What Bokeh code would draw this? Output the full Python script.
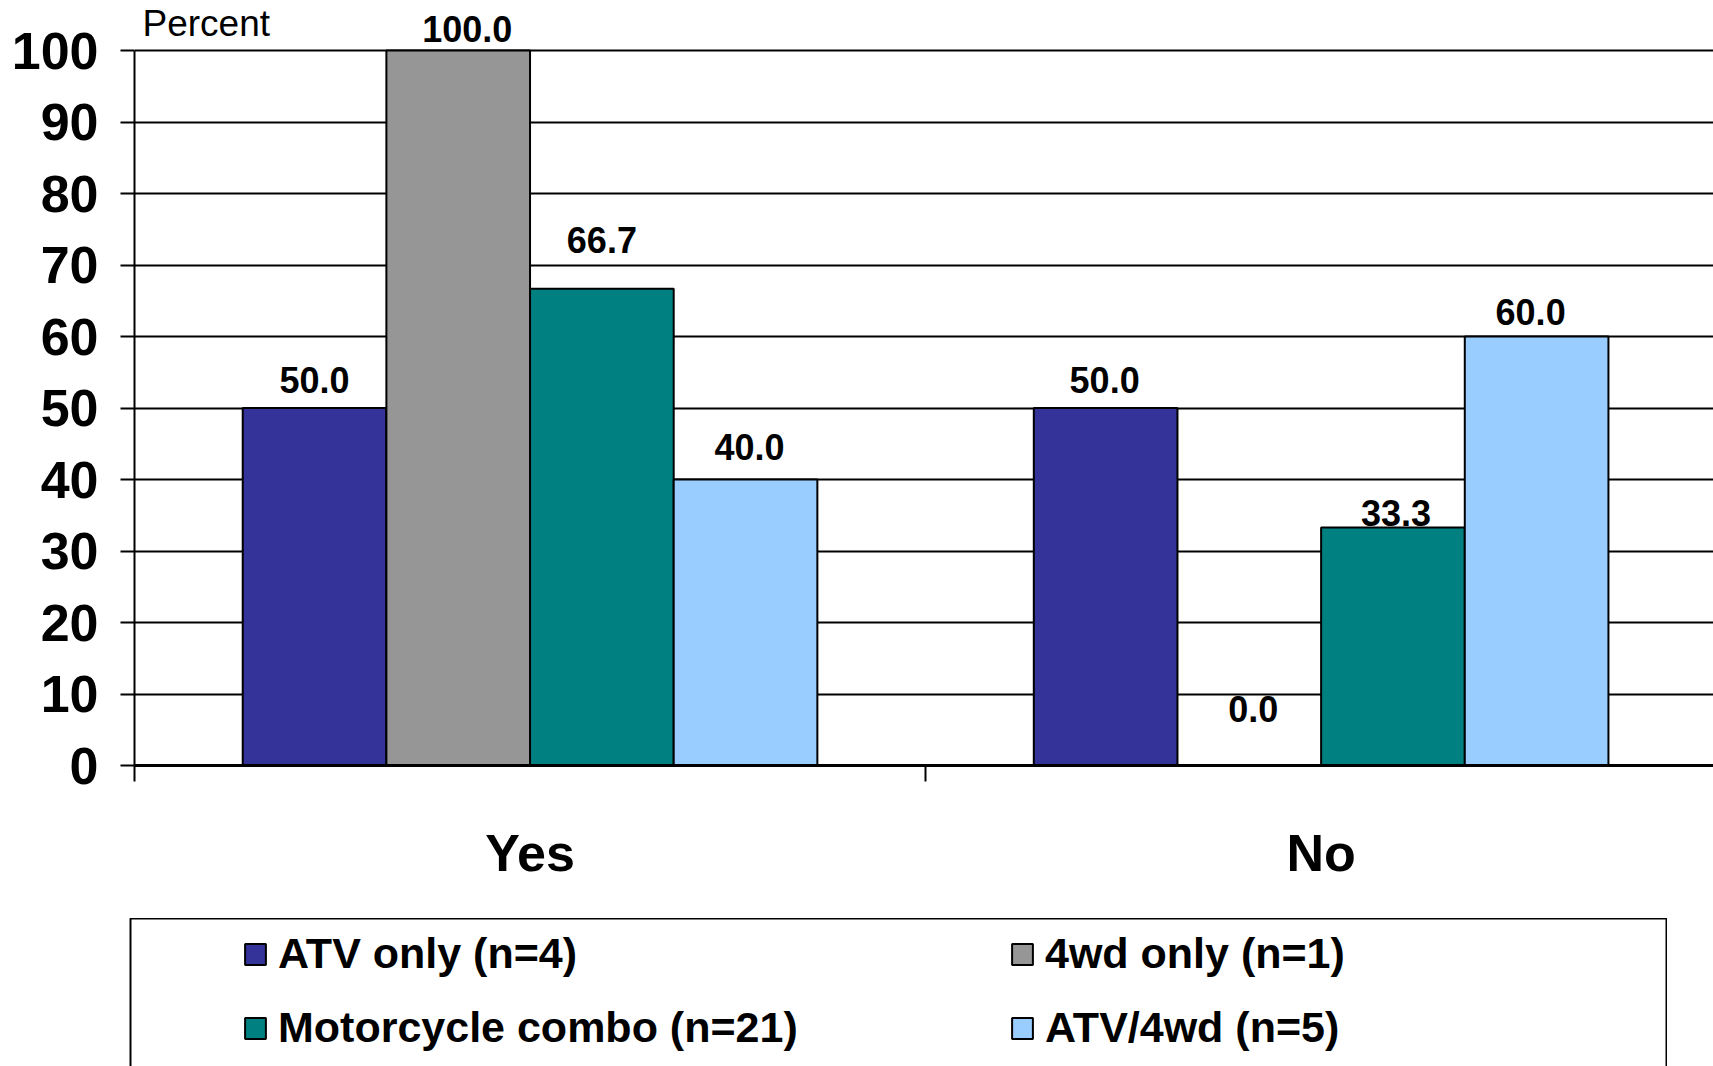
from bokeh.plotting import figure
from bokeh.models import (ColumnDataSource, Range1d, FixedTicker, Label, Legend, LegendItem)
from bokeh.layouts import column
from bokeh.transform import dodge
from bokeh.embed import file_html
from bokeh.resources import INLINE

# ---- data ----
categories = ["Yes", "No"]
series_names = ["ATV only (n=4)", "4wd only (n=1)", "Motorcycle combo (n=21)", "ATV/4wd (n=5)"]
atv_only = [50.0, 50.0]
fourwd_only = [100.0, 0.0]
motorcycle_combo = [66.7, 33.3]
atv_4wd = [40.0, 60.0]
y_ticks = [0, 10, 20, 30, 40, 50, 60, 70, 80, 90, 100]

# ---- styles ----
colors = ["#333399", "#969696", "#008080", "#99CCFF"]
offsets = [-0.2724, -0.0908, 0.0908, 0.2724]
bar_w = 0.1816
label_nudge_y = [[28, 28], [22, 57], [49, 14], [33, 25]]
label_nudge_x = [[0, -1], [9, 4], [0, 3], [4, -6]]
FONT = "Liberation Sans"

series_values = [atv_only, fourwd_only, motorcycle_combo, atv_4wd]
centers = [i + 0.5 for i in range(len(categories))]

p = figure(width=1713, height=918, output_backend="svg", toolbar_location=None,
           x_range=Range1d(0, 1.996), y_range=Range1d(0, 107),
           min_border_left=134, min_border_top=0, min_border_bottom=153, min_border_right=0)
p.outline_line_color = None
p.background_fill_color = "white"
p.frame_align = False

# grid
p.xgrid.visible = False
p.ygrid.ticker = FixedTicker(ticks=y_ticks)
p.ygrid.grid_line_color = "black"
p.ygrid.grid_line_width = 2

# y axis
p.yaxis.ticker = FixedTicker(ticks=y_ticks)
p.yaxis.bounds = (0, 100)
p.yaxis.axis_line_width = 2
p.yaxis.major_tick_line_width = 2
p.yaxis.major_tick_out = 14
p.yaxis.major_tick_in = 0
p.yaxis.minor_tick_line_color = None
p.yaxis.major_label_text_font = FONT
p.yaxis.major_label_text_font_style = "bold"
p.yaxis.major_label_text_font_size = "52px"
p.yaxis.major_label_text_color = "black"
p.yaxis.major_label_standoff = 22

# x axis
p.xaxis.ticker = FixedTicker(ticks=centers, minor_ticks=[0, 1, 2])
p.xaxis.major_label_overrides = {c: n for c, n in zip(centers, categories)}
p.xaxis.axis_line_width = 3
p.xaxis.major_tick_line_color = None
p.xaxis.minor_tick_line_color = "black"
p.xaxis.minor_tick_line_width = 2
p.xaxis.minor_tick_out = 16
p.xaxis.minor_tick_in = 0
p.xaxis.major_label_text_font = FONT
p.xaxis.major_label_text_font_style = "bold"
p.xaxis.major_label_text_font_size = "52px"
p.xaxis.major_label_text_color = "black"
p.xaxis.major_label_standoff = 42

# legend-only figure (box with outline)
lf = figure(width=1667, height=150, output_backend="svg", toolbar_location=None,
            x_range=Range1d(0, 1.996), y_range=Range1d(1000, 1001),
            x_axis_type=None, y_axis_type=None,
            min_border_left=130, min_border_top=0, min_border_bottom=0, min_border_right=0)
lf.grid.visible = False
lf.outline_line_color = "black"
lf.outline_line_width = 2
lf.background_fill_color = "white"
lf.frame_align = False

items = []
for k, (name, vals) in enumerate(zip(series_names, series_values)):
    src = ColumnDataSource(dict(x=centers, top=vals))
    kw = dict(x=dodge("x", offsets[k]), top="top", bottom=0, width=bar_w, source=src,
              fill_color=colors[k], line_color="black", line_width=2)
    p.vbar(**kw)
    r = lf.vbar(**kw)
    items.append(LegendItem(label=name, renderers=[r]))
    for i in range(len(vals)):
        p.add_layout(Label(x=centers[i] + offsets[k], y=vals[i],
                           x_offset=label_nudge_x[k][i], y_offset=label_nudge_y[k][i],
                           text="%.1f" % vals[i], text_align="center", text_baseline="middle",
                           text_font=FONT, text_font_style="bold", text_font_size="36px",
                           text_color="black"))

p.add_layout(Label(x=0, y=100, x_offset=8, y_offset=27, text="Percent",
                   text_align="left", text_baseline="middle",
                   text_font=FONT, text_font_size="37px", text_color="black"))

legend = Legend(items=items, location=(98, 2), orientation="horizontal", ncols=2,
                glyph_width=26, glyph_height=26, label_standoff=10, label_width=706,
                label_height=48, spacing=25, padding=14,
                border_line_alpha=0, background_fill_alpha=0,
                label_text_font=FONT, label_text_font_style="bold",
                label_text_font_size="43px", label_text_color="black")
lf.add_layout(legend, "center")

layout = column(p, lf, spacing=0)
open("out.html", "w").write(file_html(layout, INLINE))
